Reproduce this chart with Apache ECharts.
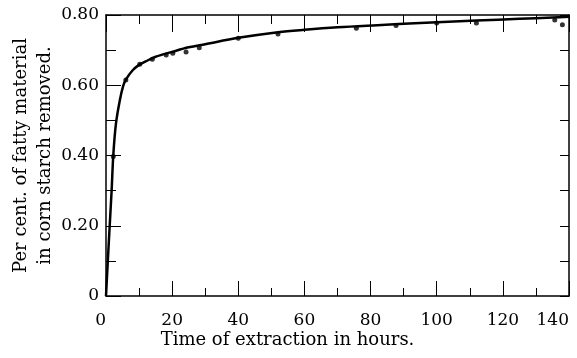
<!DOCTYPE html>
<html>
<head>
<meta charset="utf-8">
<script src="https://cdn.jsdelivr.net/npm/echarts@6/dist/echarts.min.js"></script>
<style>html,body{margin:0;padding:0;background:#fff;}#c{width:577px;height:358px;}</style>
</head>
<body>
<div id="c"></div>
<script>
// Fitted curve (hours, fraction removed)
const curveHours = [0, 1, 1.7, 2.2, 3, 4.2, 5.2, 6, 8, 10, 12, 15, 20, 25, 30, 40, 52, 60, 70, 82, 95, 112, 125, 135, 140];
const curveValues = [0, 0.18, 0.30, 0.40, 0.49, 0.558, 0.598, 0.616, 0.642, 0.658, 0.668, 0.681, 0.695, 0.708, 0.717, 0.735, 0.751, 0.758, 0.765, 0.771, 0.777, 0.784, 0.789, 0.793, 0.795];
// Observed points
const pointHours = [2.2, 6, 10.2, 14, 18.2, 20.2, 24.2, 28.2, 40, 52, 75.7, 87.7, 100, 112, 135.7, 138];
const pointValues = [0.397, 0.615, 0.660, 0.674, 0.686, 0.691, 0.695, 0.707, 0.734, 0.746, 0.762, 0.770, 0.777, 0.777, 0.786, 0.772];
const xTicks = [0, 20, 40, 60, 80, 100, 120, 140];
const yTicks = ['0', '0.20', '0.40', '0.60', '0.80'];

const font = 'DejaVu Serif';
const ink = '#000';
const chart = echarts.init(document.getElementById('c'));
chart.setOption({
  animation: false,
  backgroundColor: '#fff',
  grid: { left: 106, right: 8, top: 15, bottom: 62, containLabel: false, outerBoundsMode: 'none' },
  xAxis: [{
    type: 'value', min: 0, max: 140, interval: 20, position: 'bottom',
    axisLine: { show: true, onZero: false, lineStyle: { color: ink, width: 1.5 } },
    axisTick: { show: true, inside: true, length: 15, lineStyle: { color: ink, width: 1 } },
    minorTick: { show: true, splitNumber: 2, length: 8, lineStyle: { color: ink, width: 1 } },
    splitLine: { show: false },
    axisLabel: { color: ink, fontFamily: font, fontSize: 17, margin: 16, alignMinLabel: 'right', alignMaxLabel: 'right',
      formatter: v => { const i = xTicks.indexOf(v); return i >= 0 ? String(xTicks[i]) : ''; } },
    name: 'Time of extraction in hours.', nameLocation: 'middle', nameGap: 35, nameMoveOverlap: false,
    nameTextStyle: { color: ink, fontFamily: font, fontSize: 18, padding: [0, 100, 0, 0] }
  }, {
    type: 'value', min: 0, max: 140, interval: 20, position: 'top',
    axisLine: { show: true, onZero: false, lineStyle: { color: ink, width: 1.5 } },
    axisTick: { show: true, inside: true, length: 17, lineStyle: { color: ink, width: 1 } },
    minorTick: { show: true, splitNumber: 2, length: 9, lineStyle: { color: ink, width: 1 } },
    splitLine: { show: false }, axisLabel: { show: false }
  }],
  yAxis: [{
    type: 'value', min: 0, max: 0.8, interval: 0.2, position: 'left',
    axisLine: { show: true, onZero: false, lineStyle: { color: ink, width: 1.5 } },
    axisTick: { show: true, inside: true, length: 15, lineStyle: { color: ink, width: 1 } },
    minorTick: { show: true, splitNumber: 2, length: 10, lineStyle: { color: ink, width: 1 } },
    splitLine: { show: false },
    axisLabel: { color: ink, fontFamily: font, fontSize: 17, margin: 7,
      formatter: v => yTicks[Math.round(v / 0.2)] },
    name: 'Per cent. of fatty material\nin corn starch removed.', nameLocation: 'middle', nameGap: 49, nameRotate: 90, nameMoveOverlap: false,
    nameTextStyle: { color: ink, fontFamily: font, fontSize: 18, lineHeight: 24 }
  }, {
    type: 'value', min: 0, max: 0.8, interval: 0.1, position: 'right',
    axisLine: { show: true, onZero: false, lineStyle: { color: ink, width: 1.5 } },
    axisTick: { show: true, inside: true, length: 9, lineStyle: { color: ink, width: 1 } },
    splitLine: { show: false }, axisLabel: { show: false }
  }],
  series: [{
    type: 'line', xAxisIndex: 0, yAxisIndex: 0,
    data: curveHours.map((h, i) => [h, curveValues[i]]),
    smooth: 0.35, showSymbol: false, lineStyle: { color: ink, width: 2.5 }
  }, {
    type: 'scatter', xAxisIndex: 0, yAxisIndex: 0,
    data: pointHours.map((h, i) => [h, pointValues[i]]),
    symbolSize: 5, itemStyle: { color: ink }
  }]
});
</script>
</body>
</html>
